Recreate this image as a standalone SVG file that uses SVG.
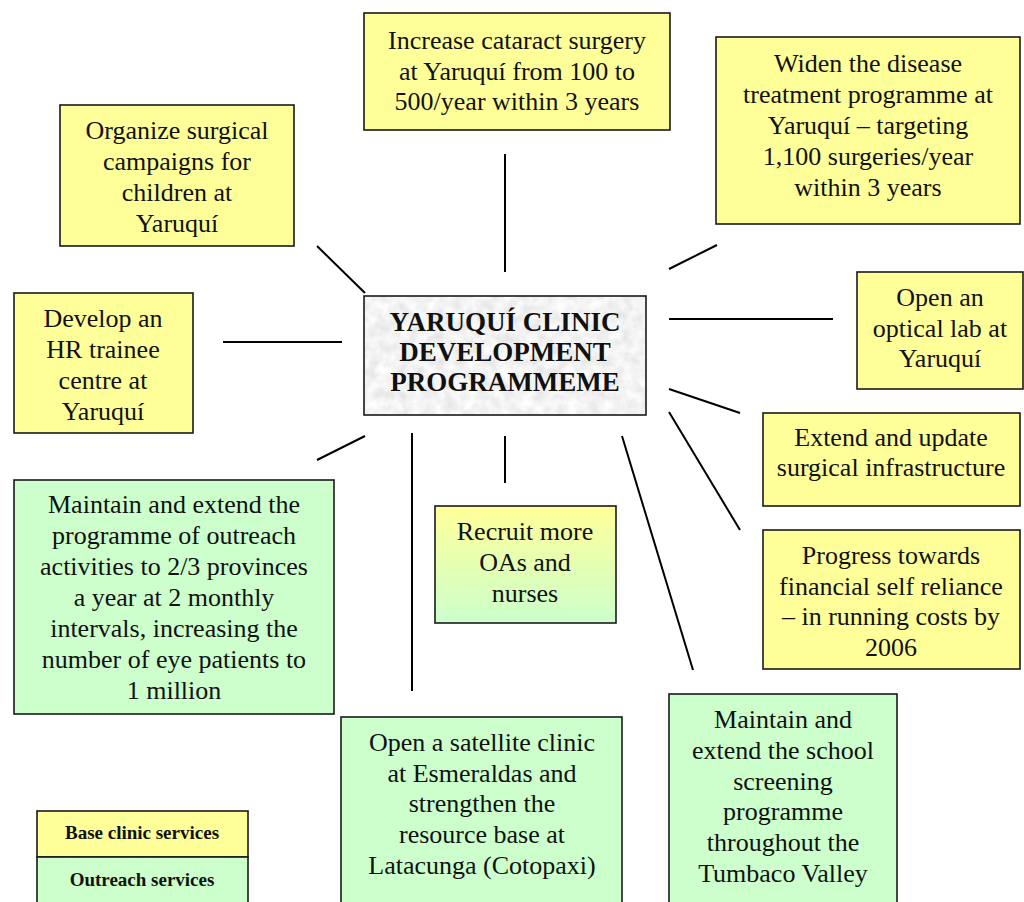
<svg xmlns="http://www.w3.org/2000/svg" width="1024" height="902" viewBox="0 0 1024 902">
<defs>
<linearGradient id="yg" x1="0" y1="0" x2="0" y2="1">
<stop offset="0" stop-color="#FFFF99"/>
<stop offset="1" stop-color="#CCFFCC"/>
</linearGradient>
<filter id="granite" x="0" y="0" width="100%" height="100%">
<feTurbulence type="fractalNoise" baseFrequency="0.09" numOctaves="3" seed="7" result="n"/>
<feColorMatrix in="n" type="matrix" values="0.35 0 0 0 0.72  0.35 0 0 0 0.72  0.35 0 0 0 0.72  0 0 0 0 1" result="g"/>
<feComposite in="g" in2="SourceGraphic" operator="in"/>
</filter>
<style>
.box{stroke:#1a1a1a;stroke-width:1.6}
.y{fill:#FFFF99}
.g{fill:#CCFFCC}
.t{font-family:"Liberation Serif","Times New Roman",serif;font-size:26px;fill:#111;text-anchor:middle}
.b{font-family:"Liberation Serif","Times New Roman",serif;font-weight:bold;fill:#111;text-anchor:middle}
.c line{stroke:#000;stroke-width:2}
</style>
</defs>
<rect width="1024" height="902" fill="#fff"/>

<g class="c" id="connectors">
<line x1="505" y1="154" x2="505" y2="272"/>
<line x1="317" y1="246" x2="365" y2="293"/>
<line x1="669" y1="269" x2="717" y2="245"/>
<line x1="223" y1="342" x2="342" y2="342"/>
<line x1="669" y1="319" x2="833" y2="319"/>
<line x1="669" y1="389" x2="740" y2="413"/>
<line x1="669" y1="412" x2="740" y2="530"/>
<line x1="317" y1="460" x2="365" y2="436"/>
<line x1="412" y1="433" x2="412" y2="691"/>
<line x1="505" y1="436" x2="505" y2="483"/>
<line x1="622" y1="436" x2="693" y2="670"/>
</g>

<g id="center">
<rect x="364" y="296" width="282" height="119" fill="#e0e0e0" filter="url(#granite)"/>
<rect x="364" y="296" width="282" height="119" fill="none" class="box"/>
<text class="b" font-size="27" x="505"><tspan x="505" y="331">YARUQUÍ CLINIC</tspan><tspan x="505" y="361">DEVELOPMENT</tspan><tspan x="505" y="391">PROGRAMMEME</tspan></text>
</g>

<g id="cataract">
<rect class="box y" x="364" y="13" width="306" height="117"/>
<text class="t"><tspan x="517" y="49">Increase cataract surgery</tspan><tspan x="517" y="80">at Yaruquí from 100 to</tspan><tspan x="517" y="110">500/year within 3 years</tspan></text>
</g>

<g id="widen">
<rect class="box y" x="716" y="37" width="304" height="187"/>
<text class="t"><tspan x="868" y="72">Widen the disease</tspan><tspan x="868" y="103">treatment programme at</tspan><tspan x="868" y="134">Yaruquí – targeting</tspan><tspan x="868" y="165">1,100 surgeries/year</tspan><tspan x="868" y="196">within 3 years</tspan></text>
</g>

<g id="organize">
<rect class="box y" x="60" y="105" width="234" height="141"/>
<text class="t"><tspan x="177" y="139">Organize surgical</tspan><tspan x="177" y="170">campaigns for</tspan><tspan x="177" y="201">children at</tspan><tspan x="177" y="232">Yaruquí</tspan></text>
</g>

<g id="develop">
<rect class="box y" x="14" y="293" width="179" height="140"/>
<text class="t"><tspan x="103" y="327">Develop an</tspan><tspan x="103" y="358">HR trainee</tspan><tspan x="103" y="389">centre at</tspan><tspan x="103" y="420">Yaruquí</tspan></text>
</g>

<g id="optical">
<rect class="box y" x="857" y="272" width="166" height="117"/>
<text class="t"><tspan x="940" y="306">Open an</tspan><tspan x="940" y="337">optical lab at</tspan><tspan x="940" y="367">Yaruquí</tspan></text>
</g>

<g id="infrastructure">
<rect class="box y" x="763" y="413" width="257" height="93"/>
<text class="t"><tspan x="891" y="446">Extend and update</tspan><tspan x="891" y="476">surgical infrastructure</tspan></text>
</g>

<g id="financial">
<rect class="box y" x="763" y="530" width="257" height="139"/>
<text class="t"><tspan x="891" y="564">Progress towards</tspan><tspan x="891" y="595">financial self reliance</tspan><tspan x="891" y="625">– in running costs by</tspan><tspan x="891" y="656">2006</tspan></text>
</g>

<g id="outreach">
<rect class="box g" x="14" y="480" width="320" height="234"/>
<text class="t" font-size="27"><tspan x="174" y="513">Maintain and extend the</tspan><tspan x="174" y="544">programme of outreach</tspan><tspan x="174" y="575">activities to 2/3 provinces</tspan><tspan x="174" y="606">a year at 2 monthly</tspan><tspan x="174" y="637">intervals, increasing the</tspan><tspan x="174" y="668">number of eye patients to</tspan><tspan x="174" y="699">1 million</tspan></text>
</g>

<g id="recruit">
<rect class="box" fill="url(#yg)" x="435" y="506" width="181" height="117"/>
<text class="t"><tspan x="525" y="540">Recruit more</tspan><tspan x="525" y="571">OAs and</tspan><tspan x="525" y="602">nurses</tspan></text>
</g>

<g id="satellite">
<rect class="box g" x="341" y="717" width="281" height="200"/>
<text class="t"><tspan x="482" y="751">Open a satellite clinic</tspan><tspan x="482" y="782">at Esmeraldas and</tspan><tspan x="482" y="812">strengthen the</tspan><tspan x="482" y="843">resource base at</tspan><tspan x="482" y="874">Latacunga (Cotopaxi)</tspan></text>
</g>

<g id="school">
<rect class="box g" x="669" y="694" width="228" height="220"/>
<text class="t"><tspan x="783" y="728">Maintain and</tspan><tspan x="783" y="759">extend the school</tspan><tspan x="783" y="790">screening</tspan><tspan x="783" y="820">programme</tspan><tspan x="783" y="851">throughout the</tspan><tspan x="783" y="882">Tumbaco Valley</tspan></text>
</g>

<g id="legend">
<rect class="box y" x="37" y="811" width="211" height="46"/>
<rect class="box g" x="37" y="857" width="211" height="60"/>
<text class="b" font-size="19" x="142" y="839">Base clinic services</text>
<text class="b" font-size="19" x="142" y="886">Outreach services</text>
</g>
</svg>
